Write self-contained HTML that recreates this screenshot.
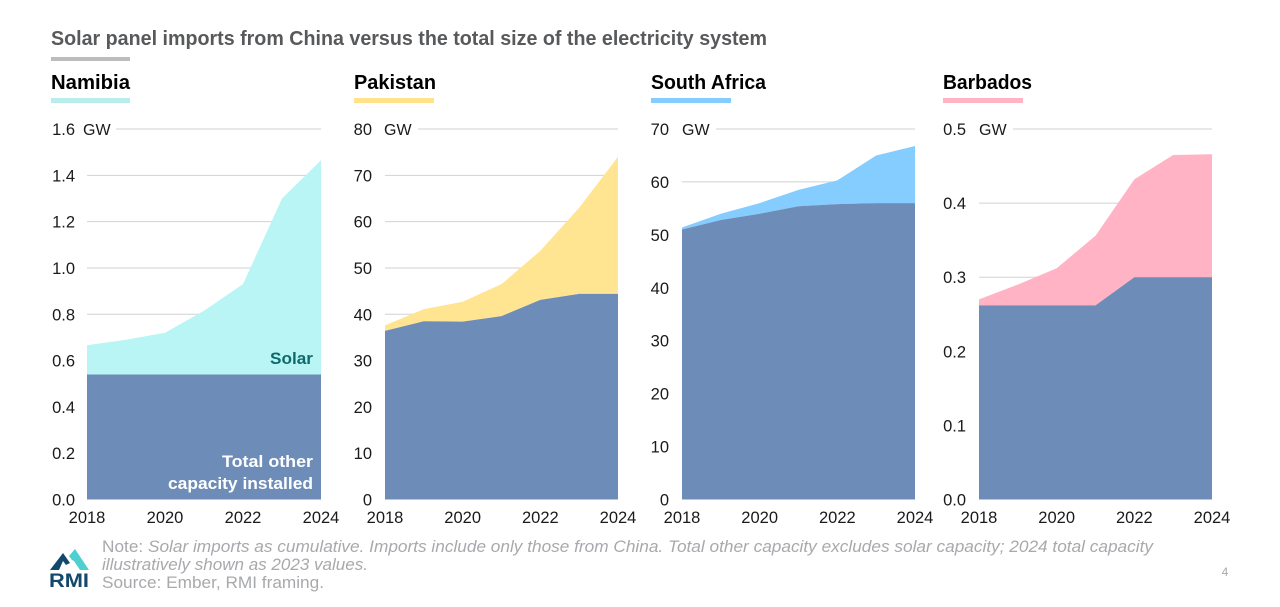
<!DOCTYPE html>
<html lang="en">
<head>
<meta charset="utf-8">
<title>Solar panel imports from China versus the total size of the electricity system</title>
<style>
html,body{margin:0;padding:0;background:#fff;width:1280px;height:607px;overflow:hidden}
svg{display:block;font-family:"Liberation Sans",sans-serif}
</style>
</head>
<body>
<svg id="chart" width="1280" height="607" viewBox="0 0 1280 607" xmlns="http://www.w3.org/2000/svg">
  <rect width="1280" height="607" fill="#fff"/>
  <text x="51" y="45" font-size="20" font-weight="700" fill="#58595b" textLength="716" lengthAdjust="spacingAndGlyphs">Solar panel imports from China versus the total size of the electricity system</text>
  <rect x="51" y="57" width="79" height="4" fill="#bcbcbc"/>

  <g id="panels"></g>

  <g>
    <polygon points="50,570 63,553 70,563 66,565 63,561 59,570" fill="#12486b"/>
    <polygon points="69,556 75,549 89,570 80,570 74,561 72,560" fill="#4fd0d0"/>
    <text x="49" y="587" font-size="19" font-weight="700" fill="#12486b" textLength="40" lengthAdjust="spacingAndGlyphs">RMI</text>
  </g>

  <text x="102" y="552" font-size="17" fill="#a7a9ac" textLength="1051" lengthAdjust="spacingAndGlyphs">Note: <tspan font-style="italic">Solar imports as cumulative. Imports include only those from China. Total other capacity excludes solar capacity; 2024 total capacity</tspan></text>
  <text x="102" y="570" font-size="17" font-style="italic" fill="#a7a9ac" textLength="266" lengthAdjust="spacingAndGlyphs">illustratively shown as 2023 values.</text>
  <text x="102" y="588" font-size="17" fill="#a7a9ac" textLength="222" lengthAdjust="spacingAndGlyphs">Source: Ember, RMI framing.</text>
  <text x="1225" y="576" font-size="12" fill="#a7a9ac" text-anchor="middle">4</text>
</svg>

<script>
// Shared x categories
const years = [2018, 2019, 2020, 2021, 2022, 2023, 2024];
const yearTicks = [2018, 2020, 2022, 2024];

// Namibia (GW)
const namibiaOther = [0.54, 0.54, 0.54, 0.54, 0.54, 0.54, 0.54];
const namibiaSolar = [0.126, 0.15, 0.18, 0.275, 0.39, 0.76, 0.925];
const namibiaTicks = ["0.0", "0.2", "0.4", "0.6", "0.8", "1.0", "1.2", "1.4", "1.6"];

// Pakistan (GW)
const pakistanOther = [36.4, 38.5, 38.4, 39.6, 43.1, 44.4, 44.4];
const pakistanSolar = [1.2, 2.6, 4.3, 6.9, 10.6, 18.6, 29.6];
const pakistanTicks = ["0", "10", "20", "30", "40", "50", "60", "70", "80"];

// South Africa (GW)
const southAfricaOther = [51, 52.8, 54, 55.4, 55.8, 56, 56];
const southAfricaSolar = [0.4, 1.2, 2, 3.1, 4.5, 9, 10.8];
const southAfricaTicks = ["0", "10", "20", "30", "40", "50", "60", "70"];

// Barbados (GW)
const barbadosOther = [0.262, 0.262, 0.262, 0.262, 0.3, 0.3, 0.3];
const barbadosSolar = [0.008, 0.028, 0.05, 0.094, 0.132, 0.165, 0.166];
const barbadosTicks = ["0.0", "0.1", "0.2", "0.3", "0.4", "0.5"];

const panels = [
  {name: "Namibia", slug: "namibia", other: namibiaOther, solar: namibiaSolar, ticks: namibiaTicks, color: "#b9f5f4", bar: "#b9ecec", titleX: 51, titleW: 79, barW: 79, labelRight: 75, gwX: 83, left: 87, right: 321, topStart: 116},
  {name: "Pakistan", slug: "pakistan", other: pakistanOther, solar: pakistanSolar, ticks: pakistanTicks, color: "#ffe591", bar: "#ffe28a", titleX: 354, titleW: 82, barW: 80, labelRight: 372, gwX: 384, left: 385, right: 618, topStart: 418},
  {name: "South Africa", slug: "south-africa", other: southAfricaOther, solar: southAfricaSolar, ticks: southAfricaTicks, color: "#85ccff", bar: "#85ccff", titleX: 651, titleW: 115, barW: 80, labelRight: 669, gwX: 682, left: 682, right: 915, topStart: 716},
  {name: "Barbados", slug: "barbados", other: barbadosOther, solar: barbadosSolar, ticks: barbadosTicks, color: "#ffb3c5", bar: "#ffb3c5", titleX: 943, titleW: 89, barW: 80, labelRight: 966, gwX: 979, left: 979, right: 1212, topStart: 1013}
];

const NS = "http://www.w3.org/2000/svg";
const root = document.getElementById("panels");
const plotTop = 129;
const plotBottom = 499.5;

function make(tag, parent, attrs, text) {
  const el = document.createElementNS(NS, tag);
  for (const k in attrs) el.setAttribute(k, attrs[k]);
  if (text !== undefined) el.textContent = text;
  parent.appendChild(el);
  return el;
}

function areaPath(xs, upper, lower) {
  let d = "";
  for (let i = 0; i < xs.length; i++) d += (i ? "L" : "M") + xs[i].toFixed(2) + " " + upper[i].toFixed(2);
  for (let i = xs.length - 1; i >= 0; i--) d += "L" + xs[i].toFixed(2) + " " + lower[i].toFixed(2);
  return d + "Z";
}

panels.forEach(function (p) {
  const g = make("g", root, {});
  
  

  const yMax = parseFloat(p.ticks[p.ticks.length - 1]);
  const xScale = function (year) {
    return p.left + (year - years[0]) / (years[years.length - 1] - years[0]) * (p.right - p.left);
  };
  const yScale = function (v) {
    return plotBottom - v / yMax * (plotBottom - plotTop);
  };

  const title = make("text", g, {x: p.titleX, y: 89, "font-size": 20, "font-weight": 700, fill: "#000", textLength: p.titleW, lengthAdjust: "spacingAndGlyphs"}, p.name);
  
  

  const bar = make("rect", g, {x: p.titleX, y: 98, width: p.barW, height: 5, fill: p.bar});
  
  

  p.ticks.forEach(function (t, i) {
    const v = parseFloat(t);
    const y = yScale(v);
    if (i > 0) {
      const line = make("line", g, {x1: i === p.ticks.length - 1 ? p.topStart : p.left, x2: p.right, y1: y, y2: y, stroke: "#d2d2d2", "stroke-width": 1});
      
      
    }
    const lab = make("text", g, {x: p.labelRight, y: y + 6, "font-size": 16.5, fill: "#1a1a1a", "text-anchor": "end"}, t);
    
    
  });

  const unit = make("text", g, {x: p.gwX, y: plotTop + 6, "font-size": 16, fill: "#1a1a1a"}, "GW");
  
  

  const xs = years.map(xScale);
  const base = years.map(function () { return yScale(0); });
  const otherTop = p.other.map(yScale);
  const stackTop = p.other.map(function (v, i) { return yScale(v + p.solar[i]); });

  const solarArea = make("path", g, {d: areaPath(xs, stackTop, otherTop), fill: p.color});
  
  

  const otherArea = make("path", g, {d: areaPath(xs, otherTop, base), fill: "#6e8cb8"});
  
  

  yearTicks.forEach(function (yr) {
    const lab = make("text", g, {x: xScale(yr), y: 523, "font-size": 16.5, fill: "#1a1a1a", "text-anchor": "middle"}, String(yr));
    
    
  });

  if (p.slug === "namibia") {
    const solarLabel = make("text", g, {x: 270, y: 364, "font-size": 17, "font-weight": 700, fill: "#0f6b6b", textLength: 43, lengthAdjust: "spacingAndGlyphs"}, "Solar");
    
    

    const otherLabel1 = make("text", g, {x: 222, y: 467, "font-size": 17, "font-weight": 700, fill: "#fff", textLength: 91, lengthAdjust: "spacingAndGlyphs"}, "Total other");
    
    

    const otherLabel2 = make("text", g, {x: 168, y: 489, "font-size": 17, "font-weight": 700, fill: "#fff", textLength: 145, lengthAdjust: "spacingAndGlyphs"}, "capacity installed");
    
    
  }
});
</script>
</body>
</html>
